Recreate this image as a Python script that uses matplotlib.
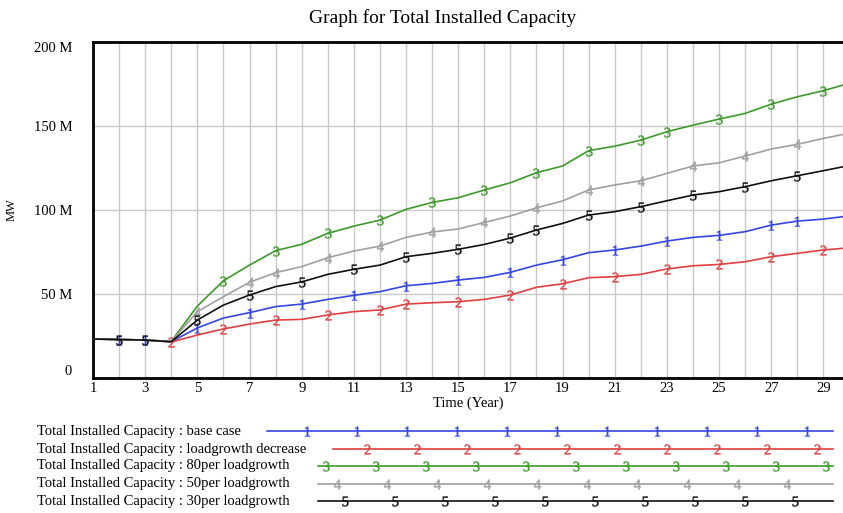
import numpy as np
import matplotlib
matplotlib.use("Agg")
import matplotlib.pyplot as plt

# font settings
plt.rcParams["font.family"] = "serif"
plt.rcParams["font.serif"] = ["Liberation Serif", "DejaVu Serif"]
plt.rcParams["mathtext.fontset"] = "custom"
plt.rcParams["mathtext.rm"] = "Liberation Serif"
plt.rcParams["mathtext.it"] = "Liberation Serif"

# data (million MW), years 1..30
years = np.arange(1, 31)
base_case = [23.2, 22.9, 22.6, 21.6, 29.8, 35.7, 38.9, 42.5, 44.0, 46.8,
             49.2, 51.4, 54.9, 56.3, 58.3, 59.9, 62.9, 67.2, 70.4, 74.6,
             76.2, 78.5, 81.5, 83.7, 84.9, 87.1, 91.0, 93.4, 94.6, 96.5]
loadgrowth_decrease = [23.2, 22.9, 22.6, 21.4, 25.6, 29.2, 32.1, 34.5, 34.9, 37.5,
                       39.5, 40.5, 44.0, 44.8, 45.4, 46.8, 49.4, 54.0, 56.1, 59.7,
                       60.3, 61.7, 64.9, 66.8, 67.6, 69.2, 72.2, 74.2, 76.2, 77.5]
per80_loadgrowth = [23.2, 22.9, 22.6, 21.8, 42.8, 57.9, 67.2, 75.8, 79.6, 86.1,
                    90.4, 94.0, 100.4, 104.5, 107.3, 111.9, 116.2, 122.2, 126.2, 135.3,
                    138.0, 141.6, 146.6, 150.5, 154.1, 157.5, 163.0, 167.4, 171.0, 175.5]
per50_loadgrowth = [23.2, 22.9, 22.6, 21.7, 39.5, 48.4, 57.0, 62.7, 66.3, 71.6,
                    75.6, 78.5, 83.7, 86.9, 88.7, 92.6, 96.4, 101.3, 105.4, 111.9,
                    114.9, 117.4, 121.8, 126.2, 128.1, 132.1, 136.3, 139.1, 142.6, 145.8]
per30_loadgrowth = [23.2, 22.9, 22.6, 21.6, 34.5, 43.4, 49.4, 54.4, 57.2, 61.7,
                    64.7, 67.2, 72.2, 74.2, 76.6, 79.5, 83.3, 88.1, 92.0, 97.0,
                    99.0, 102.0, 105.5, 108.9, 110.9, 113.9, 117.4, 120.4, 123.4, 126.5]

labels = ["Total Installed Capacity : base case",
          "Total Installed Capacity : loadgrowth decrease",
          "Total Installed Capacity : 80per loadgrowth",
          "Total Installed Capacity : 50per loadgrowth",
          "Total Installed Capacity : 30per loadgrowth"]

# colors
blue = "#3346e6"
red = "#e04040"
green = "#3c9a2a"
gray = "#a0a0a0"
black = "#101010"

series = [
    (base_case, blue, "$1$", [1, 2, 4, 6, 8, 10, 12, 14, 16, 18, 20, 22, 24, 26, 27]),
    (loadgrowth_decrease, red, "$2$", [3, 5, 7, 9, 11, 12, 14, 16, 18, 20, 22, 24, 26, 28]),
    (per80_loadgrowth, green, "$3$", [5, 7, 9, 11, 13, 15, 17, 19, 21, 22, 24, 26, 28]),
    (per50_loadgrowth, gray, "$4$", [4, 6, 7, 9, 11, 13, 15, 17, 19, 21, 23, 25, 27]),
    (per30_loadgrowth, black, "$5$", [1, 2, 4, 6, 8, 10, 12, 14, 16, 17, 19, 21, 23, 25, 27]),
]

W, H = 843, 513
fig = plt.figure(figsize=(W / 100, H / 100), dpi=100)

# main axes (pixel box: x 93..843, y 42..378)
ax = fig.add_axes([93 / W, 1 - 378 / H, (843 - 93) / W, (378 - 42) / H])
for vals, color, mk, every in series:
    ax.plot(years, np.array(vals) * 1e6, color=color, lw=1.2,
            marker=mk, markersize=7, markeredgewidth=0.3,
            markevery=every, zorder=3)

ax.set_xlim(1, 29.75)
ax.set_ylim(0, 200e6)
ax.set_xticks(np.arange(1, 30, 2))
ax.set_xticks(np.arange(1, 30, 1), minor=True)
ax.set_yticks([0, 50e6, 100e6, 150e6, 200e6])
ax.set_yticklabels(["0", "50 M", "100 M", "150 M", "200 M"])
ax.grid(True, which="both", axis="x", color="#c8c8c8", lw=1.0)
ax.grid(True, which="major", axis="y", color="#c8c8c8", lw=1.0)
ax.set_axisbelow(True)
ax.tick_params(which="both", length=0, labelsize=10.5)
ax.tick_params(axis="y", pad=15)
ax.tick_params(axis="x", pad=3)
yl = ax.get_yticklabels()
yl[0].set_va("bottom")
yl[-1].set_va("top")
for s in ["left", "top", "bottom"]:
    ax.spines[s].set_linewidth(2.0)
ax.spines["right"].set_visible(False)

ax.set_xlabel("Time (Year)", fontsize=10.5, labelpad=1)
ax.set_ylabel("MW", fontsize=9)
ax.yaxis.set_label_coords((18 - 93) / 750, 0.5)
fig.text(443 / W, 1 - 18 / H, "Graph for Total Installed Capacity",
         ha="center", va="center", fontsize=14)

# legend area drawn in pixel coordinates
lax = fig.add_axes([0, 0, 1, 1])
lax.set_xlim(0, W)
lax.set_ylim(H, 0)
lax.axis("off")
leg_y = [431, 449, 466, 484, 501]
leg_x0 = [267, 333, 318, 318, 318]
leg_m0 = [307, 367, 326, 337, 345]
for (vals, color, mk, every), lab, y, x0, m0 in zip(series, labels, leg_y, leg_x0, leg_m0):
    lax.text(37, y, lab, ha="left", va="center", fontsize=10.5)
    lax.plot([x0, 833], [y, y], color=color, lw=1.2)
    mx = np.arange(m0, 834, 50)
    lax.plot(mx, [y] * len(mx), ls="none", marker=mk, markersize=7,
             markeredgewidth=0.3, color=color)

fig.savefig("out.png", dpi=100)
